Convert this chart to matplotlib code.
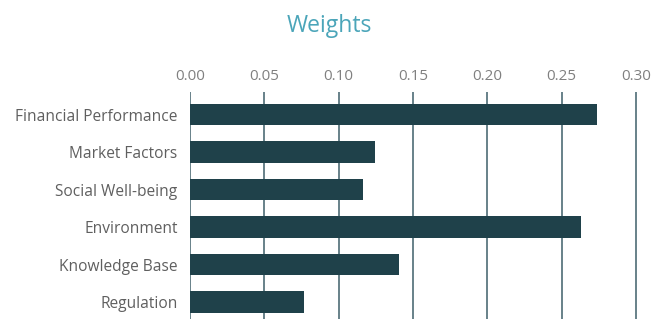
import numpy as np
import matplotlib.pyplot as plt

# weights per criterion
categories = ["Financial Performance", "Market Factors", "Social Well-being",
              "Environment", "Knowledge Base", "Regulation"]
weights = [0.274, 0.1245, 0.1165, 0.263, 0.1405, 0.077]
tick_vals = [0.00, 0.05, 0.10, 0.15, 0.20, 0.25, 0.30]
tick_labels = ["0.00", "0.05", "0.10", "0.15", "0.20", "0.25", "0.30"]

plt.rcParams['font.family'] = ['Open Sans', 'DejaVu Sans']

fig = plt.figure(figsize=(6.70, 3.19), dpi=100)
W, H = 670, 319
ax = fig.add_axes([190 / W, 0, (637 - 190) / W, (H - 92) / H])

y = np.arange(len(categories))
ax.barh(y, weights, height=0.58, color='#1f414a', zorder=3)

ax.set_xlim(0, 0.30 * 447 / 446)
ax.set_ylim(5.45, -0.6)
ax.set_xticks(tick_vals)
ax.set_xticklabels(tick_labels)
ax.xaxis.tick_top()
ax.set_yticks(y)
ax.set_yticklabels(categories)
ax.tick_params(axis='x', length=0, pad=6, labelsize=11, colors='#808080')
ax.tick_params(axis='y', length=0, pad=9, labelsize=11.2, colors='#5f5f5f')
ax.grid(axis='x', color='#3f5f69', linewidth=1.1, zorder=0)
for s in ax.spines.values():
    s.set_visible(False)

fig.text(329 / W, 1 - 32 / H, "Weights", ha='center', va='baseline',
         fontsize=16.5, color='#4ba5b9')

fig.savefig("out.png", dpi=100)
